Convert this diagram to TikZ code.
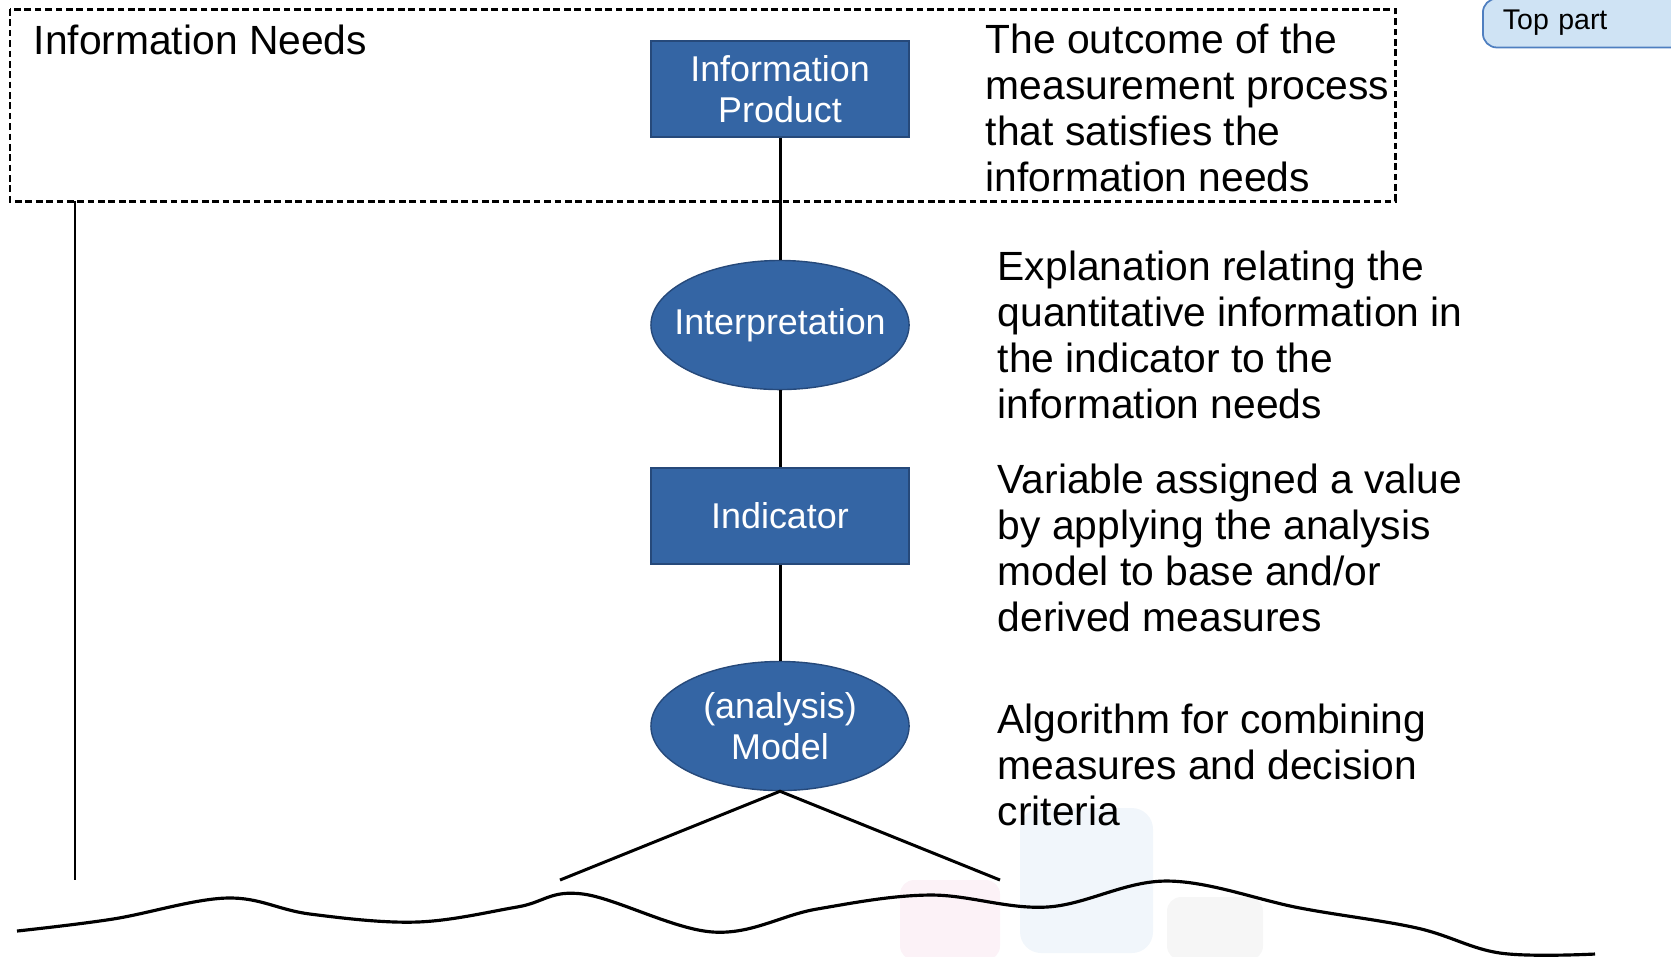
\documentclass[tikz,border=0pt]{standalone}
\usepackage{fontspec}
\setmainfont{Liberation Sans}
\usetikzlibrary{shapes.geometric}

\definecolor{nodeblue}{HTML}{3465A4}
\definecolor{nodeedge}{HTML}{26497A}
\definecolor{tabfill}{HTML}{CFE3F4}
\definecolor{tabedge}{HTML}{4F7FC0}
\definecolor{faintpink}{HTML}{FCF2F7}
\definecolor{faintblue}{HTML}{F1F6FB}
\definecolor{faintgray}{HTML}{F6F6F6}

\tikzset{
  mainfont/.style={font=\fontsize{11.6}{13.1}\selectfont},
  boxnode/.style={draw=nodeedge, line width=0.4pt, fill=nodeblue, text=white,
    minimum width=2.58cm, minimum height=0.96cm, align=center,
    font=\fontsize{10.2}{11.5}\selectfont},
  ovalnode/.style={boxnode, ellipse, minimum height=1.29cm, inner xsep=-0.4cm, inner ysep=0pt},
  notetext/.style={mainfont, anchor=west, align=left, inner sep=0pt},
  linkline/.style={line width=0.85pt}
}

\begin{document}
\begin{tikzpicture}[x=0.01cm, y=-0.01cm]
				\useasboundingbox (0,0) rectangle (1671,956);
				\clip (0,0) rectangle (1671,956);

				% faint squares behind the ground line
				\fill[faintpink, rounded corners=4pt] (900,880) rectangle (1000,960);
				\fill[faintblue, rounded corners=6pt] (1020,808) rectangle (1153,953);
				\fill[faintgray, rounded corners=4pt] (1167,897) rectangle (1263,960);

				% information needs
				\coordinate (needsNW) at (10,9);
				\coordinate (needsSE) at (1395,201);
				\draw[line width=0.85pt, dash pattern=on 1.9pt off 1.05pt] (needsNW) rectangle (needsSE);
				\node[mainfont, anchor=west, inner sep=0pt] (needs) at (33,40) {Information Needs};

				\node[boxnode] (product) at (780,89) {Information\\Product};
				\node[ovalnode] (interp) at (780,325) {Interpretation};
				\node[boxnode] (indicator) at (780,516) {Indicator};
				\node[ovalnode] (model) at (780,726) {(analysis)\\Model};

				\node[notetext] (productnote) at (985,108) {The outcome of the\\measurement process\\that satisfies the\\information needs};
				\node[notetext] (interpnote) at (997,335) {Explanation relating the\\quantitative information in\\the indicator to the\\information needs};
				\node[notetext] (indicatornote) at (997,548) {Variable assigned a value\\by applying the analysis\\model to base and/or\\derived measures};
				\node[notetext] (modelnote) at (997,765) {Algorithm for combining\\measures and decision\\criteria};

				\node[draw=tabedge, line width=0.5pt, fill=tabfill, rounded corners=0.14cm,
				  anchor=west, minimum height=0.39cm, inner xsep=0.2cm, text width=1.9cm,
				  align=left, font=\fontsize{8.1}{9}\selectfont] (toppart) at (1482,23) {Top part};

				% connectors
				\draw[linkline] (product) -- (interp);
				\draw[linkline] (interp) -- (indicator);
				\draw[linkline] (indicator) -- (model);
				\coordinate (leftleg) at (560,880);
				\coordinate (rightleg) at (1000,880);
				\draw[linkline] (leftleg) -- (model.south) -- (rightleg);
				\coordinate (needstop) at (75,201);
				\coordinate (needsfoot) at (75,880);
				\draw[linkline] (needstop) -- (needsfoot);

				% ground line
				\draw[line width=0.9pt] plot[smooth, tension=0.6] coordinates {
				  (17,931) (113,919) (227,898) (310,914) (417,922) (517,907) (583,894)
				  (713,932) (817,909) (930,895) (1047,907) (1167,881) (1300,908)
				  (1417,928) (1500,953) (1595,954)};
			\end{tikzpicture}
\end{document}
